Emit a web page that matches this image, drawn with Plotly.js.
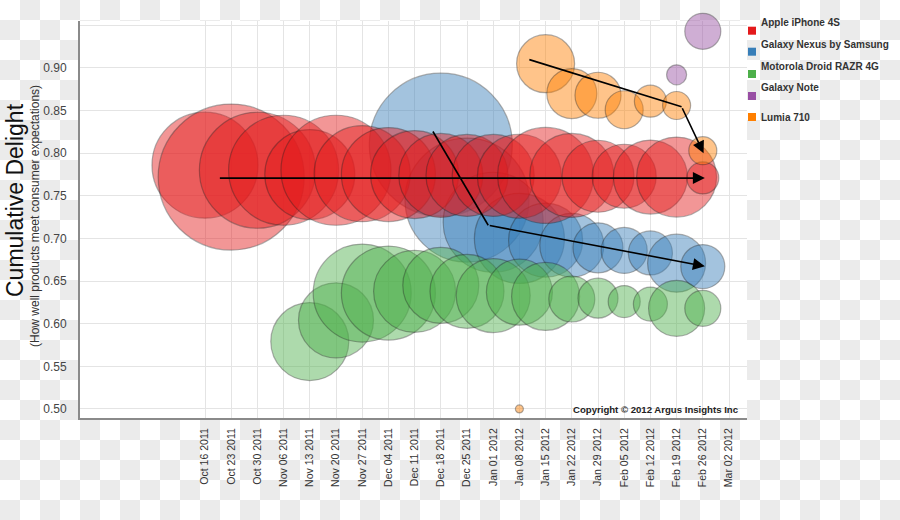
<!DOCTYPE html>
<html>
<head>
<meta charset="utf-8">
<script src="https://cdn.plot.ly/plotly-3.0.1.min.js"></script>
<style>
  html, body { margin: 0; padding: 0; }
  body {
    width: 900px; height: 520px; overflow: hidden;
    background: repeating-conic-gradient(#ebebeb 0% 25%, #ffffff 0% 50%) 0 0 / 40px 40px;
  }
  #chart { width: 900px; height: 520px; }
</style>
</head>
<body>
<div id="chart"></div>
<script>
// ---------- data ----------
const weekLabels = ["Oct 16 2011","Oct 23 2011","Oct 30 2011","Nov 06 2011","Nov 13 2011","Nov 20 2011",
  "Nov 27 2011","Dec 04 2011","Dec 11 2011","Dec 18 2011","Dec 25 2011","Jan 01 2012","Jan 08 2012",
  "Jan 15 2012","Jan 22 2012","Jan 29 2012","Feb 05 2012","Feb 12 2012","Feb 19 2012","Feb 26 2012","Mar 02 2012"];

const seriesNames = ["Apple iPhone 4S","Galaxy Nexus by Samsung","Motorola Droid RAZR 4G","Galaxy Note","Lumia 710"];
const seriesColors = ["#e41a1c","#377eb8","#4daf4a","#984ea3","#ff7f00"];

const appleDelight = [0.786,0.772,0.780,0.780,0.775,0.780,0.776,0.775,0.775,0.774,0.774,0.774,0.773,0.774,0.774,0.773,0.773,0.772,0.772,0.771];
const appleVolume  = [2809,5329,3364,3025,2025,3025,2304,2209,1936,1764,1681,1681,1764,2304,1764,1296,1024,1369,1600,256];

const nexusDelight = [null,null,null,null,null,null,null,null,null,0.810,0.745,0.719,0.700,0.698,0.692,0.689,0.686,0.683,0.671,0.667];
const nexusVolume  = [null,null,null,null,null,null,null,null,null,5112,3844,2500,2025,1369,1024,625,529,484,841,484];

const razrDelight = [null,null,null,null,0.579,0.604,0.636,0.636,0.638,0.645,0.638,0.633,0.637,0.632,0.629,0.630,0.626,0.623,0.618,0.618];
const razrVolume  = [null,null,null,null,1521,1406,2401,2209,1681,1444,1369,1369,1089,1156,529,400,256,289,784,324];

const noteDelight = [null,null,null,null,null,null,null,null,null,null,null,null,null,null,null,null,null,null,0.892,0.943];
const noteVolume  = [null,null,null,null,null,null,null,null,null,null,null,null,null,null,null,null,null,null,100,324];

const lumiaDelight = [null,null,null,null,null,null,null,null,null,null,null,null,0.500,0.905,0.870,0.868,0.851,0.861,0.856,0.803];
const lumiaVolume  = [null,null,null,null,null,null,null,null,null,null,null,null,16,841,625,529,361,256,196,196];

// trend arrows (x = week index, y = delight)
const appleTrendX = [0.51, 19.08];
const appleTrendY = [0.7708, 0.7708];
const nexusTrendX = [8.70, 10.81, 19.08];
const nexusTrendY = [0.8255, 0.7155, 0.6674];
const lumiaTrendX = [12.38, 18.19, 19.03];
const lumiaTrendY = [0.9098, 0.8545, 0.8000];

const yTicks = [0.50,0.55,0.60,0.65,0.70,0.75,0.80,0.85,0.90,0.95];
const yTickText = ["0.50","0.55","0.60","0.65","0.70","0.75","0.80","0.85","0.90",""];

// ---------- build ----------
const FONT = "Liberation Sans, Arial, Helvetica, sans-serif";
const weekIdx = weekLabels.map((_, i) => i);

function hexA(hex, a) {
  const n = parseInt(hex.slice(1), 16);
  return `rgba(${(n>>16)&255},${(n>>8)&255},${n&255},${a})`;
}

function bubble(delight, volume, color, name) {
  const xs = [], ys = [], ss = [];
  delight.forEach((v, i) => { if (v !== null) { xs.push(weekIdx[i]); ys.push(v); ss.push(volume[i]); } });
  return {
    type: "scatter", mode: "markers", name: name, showlegend: false,
    x: xs, y: ys, cliponaxis: false, hoverinfo: "x+y+name",
    marker: {
      size: ss, sizemode: "area", sizeref: 0.5,
      color: hexA(color, 0.65),
      line: { color: "rgba(30,30,30,0.5)", width: 1.2 }
    }
  };
}

const traces = [
  bubble(nexusDelight, nexusVolume, seriesColors[1], seriesNames[1]),
  bubble(appleDelight, appleVolume, seriesColors[0], seriesNames[0]),
  bubble(razrDelight, razrVolume, seriesColors[2], seriesNames[2]),
  bubble(noteDelight, noteVolume, seriesColors[3], seriesNames[3]),
  bubble(lumiaDelight, lumiaVolume, seriesColors[4], seriesNames[4])
];

const annotations = [];
[[appleTrendX, appleTrendY], [nexusTrendX, nexusTrendY], [lumiaTrendX, lumiaTrendY]].forEach(([tx, ty]) => {
  const n = tx.length;
  if (n > 2) {
    traces.push({ type: "scatter", mode: "lines", showlegend: false, hoverinfo: "skip",
      x: tx.slice(0, n - 1), y: ty.slice(0, n - 1), cliponaxis: false,
      line: { color: "#000", width: 1.6 } });
  }
  annotations.push({ x: tx[n-1], y: ty[n-1], ax: tx[n-2], ay: ty[n-2],
    xref: "x", yref: "y", axref: "x", ayref: "y", text: "", showarrow: true,
    arrowhead: 2, arrowsize: 1.5, arrowwidth: 1.6, arrowcolor: "#000", standoff: 0 });
});

// layout geometry
const M = { l: 80, r: 153, t: 21, b: 102 };
const PW = 900 - M.l - M.r, PH = 520 - M.t - M.b;
const px = x => (x - M.l) / PW;
const py = y => (520 - M.b - y) / PH;

// custom legend
const legSquareY = [30.7, 51.7, 74, 96, 117];
const legTextY = [22.7, 44.3, 66, 88, 117];
const shapes = [];
seriesNames.forEach((nm, i) => {
  shapes.push({ type: "rect", xref: "paper", yref: "paper",
    x0: px(748), x1: px(756), y0: py(legSquareY[i] + 4), y1: py(legSquareY[i] - 4),
    fillcolor: seriesColors[i], line: { width: 0 } });
  annotations.push({ xref: "paper", yref: "paper", x: px(759), y: py(legTextY[i]),
    xanchor: "left", yanchor: "middle", showarrow: false, text: "<b>" + nm + "</b>",
    font: { family: FONT, size: 10, color: "#333" } });
});

// axis titles
annotations.push({ xref: "paper", yref: "paper", x: px(15), y: py(200), textangle: -90,
  xanchor: "center", yanchor: "middle", showarrow: false, text: "Cumulative Delight",
  font: { family: FONT, size: 23, color: "#111" } });
annotations.push({ xref: "paper", yref: "paper", x: px(35), y: py(216), textangle: -90,
  xanchor: "center", yanchor: "middle", showarrow: false,
  text: "(How well products meet consumer expectations)",
  font: { family: FONT, size: 12, color: "#333" } });

// copyright
annotations.push({ xref: "paper", yref: "paper", x: px(741), y: py(409),
  xanchor: "right", yanchor: "middle", showarrow: false,
  text: "<b>Copyright © 2012 Argus Insights Inc</b>",
  font: { family: FONT, size: 9.6, color: "#222" } });

const layout = {
  width: 900, height: 520,
  margin: M,
  paper_bgcolor: "rgba(0,0,0,0)",
  plot_bgcolor: "#ffffff",
  showlegend: false,
  font: { family: FONT, color: "#333" },
  xaxis: {
    range: [-4.771, 20.687], tickmode: "array", tickvals: weekIdx, ticktext: weekLabels,
    tickangle: -90, tickfont: { family: FONT, size: 10.5, color: "#333" },
    showgrid: true, gridcolor: "#e4e4e4", gridwidth: 1,
    showline: true, linecolor: "#8a8a8a", linewidth: 2, zeroline: false,
    ticks: "", ticklabelstandoff: 4, fixedrange: true
  },
  yaxis: {
    range: [0.4894, 0.9551], tickmode: "array", tickvals: yTicks, ticktext: yTickText,
    tickfont: { family: FONT, size: 12, color: "#444" },
    showgrid: true, gridcolor: "#e4e4e4", gridwidth: 1,
    showline: true, linecolor: "#8a8a8a", linewidth: 2, zeroline: false,
    ticks: "", ticklabelstandoff: 9, fixedrange: true
  },
  shapes: shapes,
  annotations: annotations
};

Plotly.newPlot("chart", traces, layout, { displayModeBar: false, staticPlot: true });
</script>
</body>
</html>
